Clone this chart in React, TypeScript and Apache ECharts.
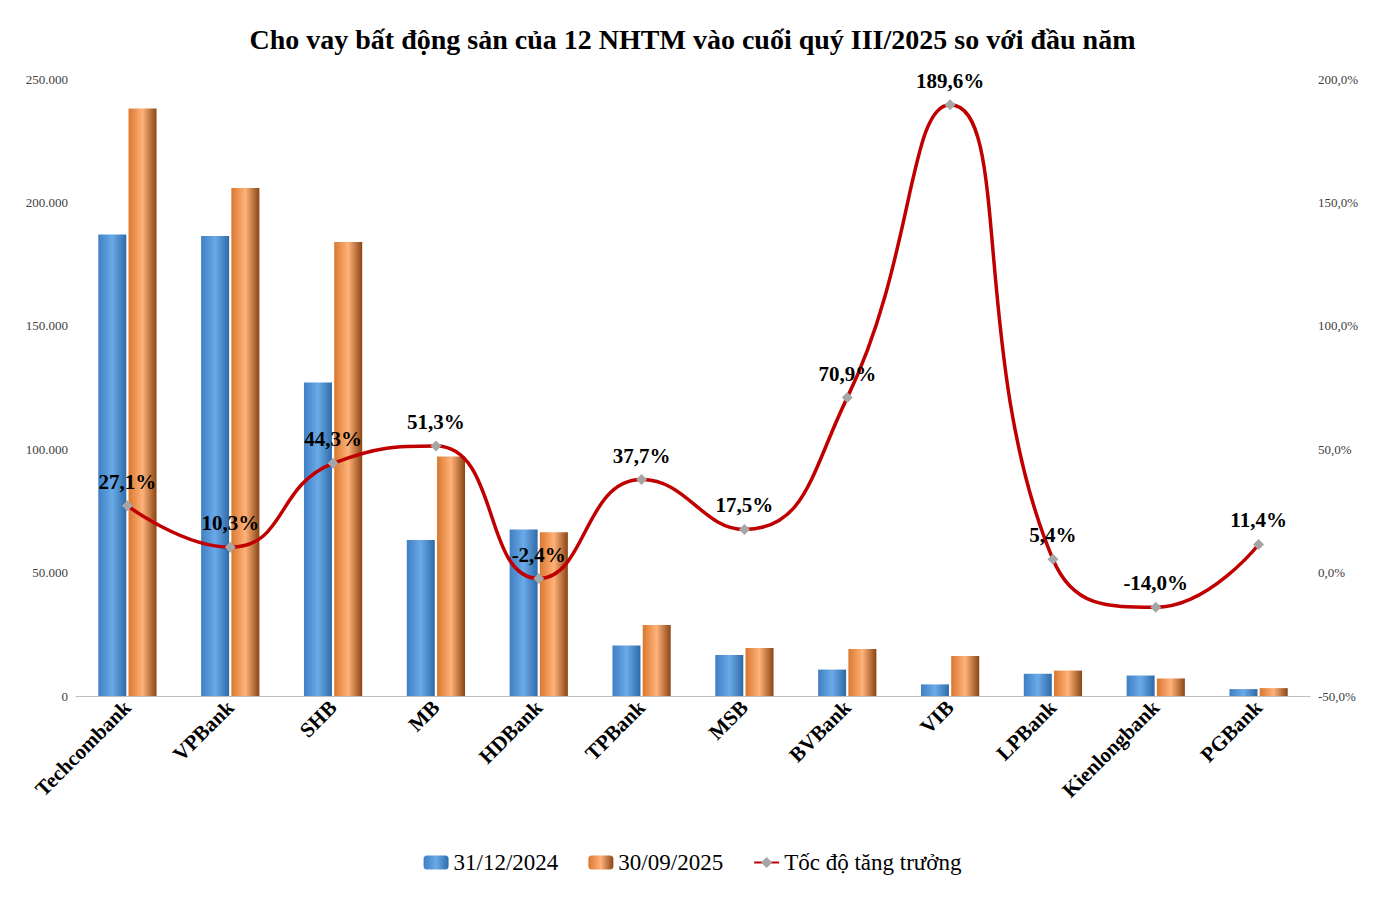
import { useEffect, useRef } from "react";
import * as echarts from "echarts";

const banks = ["Techcombank", "VPBank", "SHB", "MB", "HDBank", "TPBank", "MSB", "BVBank", "VIB", "LPBank", "Kienlongbank", "PGBank"];
const dec2024 = [187000, 186400, 127000, 63200, 67500, 20500, 16600, 10700, 4700, 9000, 8300, 2800];
const sep2025 = [238000, 205800, 184000, 97000, 66300, 28800, 19400, 19000, 16200, 10300, 7100, 3200];
const growth = [27.1, 10.3, 44.3, 51.3, -2.4, 37.7, 17.5, 70.9, 189.6, 5.4, -14.0, 11.4];

const serif = "'Liberation Serif', 'Times New Roman', serif";

const grad = (a: string, b: string, c: string) =>
  new echarts.graphic.LinearGradient(0, 0, 1, 0, [
    { offset: 0, color: a },
    { offset: 0.5, color: b },
    { offset: 1, color: c },
  ]);

export default function App() {
  const ref = useRef<HTMLDivElement | null>(null);

  useEffect(() => {
    if (!ref.current) return;
    const chart = echarts.init(ref.current, undefined, { renderer: "svg" });
    chart.setOption({
      animation: false,
      backgroundColor: "#fff",
      title: {
        text: "Cho vay bất động sản của 12 NHTM vào cuối quý III/2025 so với đầu năm",
        left: "center",
        top: 12,
        textStyle: { fontFamily: serif, fontSize: 28, fontWeight: "bold", color: "#000" },
      },
      legend: {
        bottom: 10,
        itemGap: 30,
        textStyle: { fontFamily: serif, fontSize: 23, color: "#000" },
        data: ["31/12/2024", "30/09/2025", "Tốc độ tăng trưởng"],
      },
      grid: { left: 68, right: 67, top: 71, bottom: 193 },
      xAxis: {
        type: "category",
        data: banks,
        axisTick: { show: false },
        axisLine: { lineStyle: { color: "#bfbfbf" } },
        axisLabel: { rotate: 45, fontFamily: serif, fontSize: 21, fontWeight: "bold", color: "#000", interval: 0 },
      },
      yAxis: [
        {
          type: "value",
          min: 0,
          max: 250000,
          interval: 50000,
          splitLine: { show: false },
          axisLabel: {
            fontFamily: serif,
            fontSize: 13,
            color: "#404040",
            formatter: (v: number) => v.toLocaleString("de-DE"),
          },
        },
        {
          type: "value",
          min: -50,
          max: 200,
          interval: 50,
          splitLine: { show: false },
          axisLabel: {
            fontFamily: serif,
            fontSize: 13,
            color: "#404040",
            formatter: (v: number) => v.toFixed(1).replace(".", ",") + "%",
          },
        },
      ],
      series: [
        {
          name: "31/12/2024",
          type: "bar",
          data: dec2024,
          barWidth: 28,
          barGap: "8%",
          itemStyle: { color: grad("#3f7fc4", "#6aaae8", "#2f6aa8") },
        },
        {
          name: "30/09/2025",
          type: "bar",
          data: sep2025,
          barWidth: 28,
          itemStyle: { color: grad("#d9782f", "#ffb27a", "#8a4513") },
        },
        {
          name: "Tốc độ tăng trưởng",
          type: "line",
          yAxisIndex: 1,
          data: growth,
          smooth: 0.5,
          symbol: "diamond",
          symbolSize: 11,
          lineStyle: { color: "#c00000", width: 3.5 },
          itemStyle: { color: "#a6a6a6" },
          label: {
            show: true,
            position: "top",
            distance: 8,
            fontFamily: serif,
            fontSize: 21,
            fontWeight: "bold",
            color: "#000",
            formatter: (p: any) => p.value.toFixed(1).replace(".", ",") + "%",
          },
        },
      ],
    });
    return () => chart.dispose();
  }, []);

  return <div ref={ref} style={{ width: 1369, height: 881 }} />;
}
